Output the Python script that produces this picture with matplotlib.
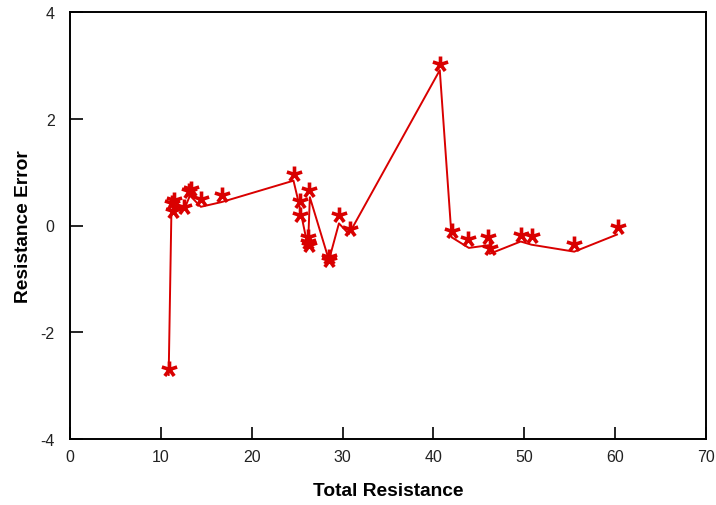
import matplotlib.pyplot as plt
import numpy as np
from matplotlib.path import Path

plt.rcParams['font.family'] = ['Liberation Sans', 'DejaVu Sans']
plt.rcParams['axes.unicode_minus'] = False

# measured points (asterisks)
total_res = [10.86, 11.2, 11.3, 11.5, 12.57, 13.07, 13.3, 14.4, 16.7, 24.7,
             25.3, 25.3, 26.2, 26.2, 26.25, 26.35, 28.5, 28.5, 29.6, 30.8,
             40.7, 42.0, 43.85, 46.06, 46.2, 49.6, 50.8, 55.5, 60.3]
res_error = [-2.68, 0.42, 0.27, 0.48, 0.34, 0.65, 0.68, 0.5, 0.57, 0.97,
             0.45, 0.19, -0.22, -0.3, -0.36, 0.67, -0.59, -0.65, 0.19, -0.06,
             3.03, -0.1, -0.26, -0.22, -0.42, -0.17, -0.2, -0.34, -0.03]

# fitted curve (line)
fit_x = [10.86, 11.16, 11.5, 12.57, 13.2, 14.4, 16.7, 24.6, 25.25, 26.0,
         26.2, 26.4, 28.5, 29.6, 30.7, 40.7, 42.0, 43.9, 46.06, 46.2,
         49.6, 50.8, 55.5, 60.2]
fit_y = [-2.8, 0.25, 0.37, 0.3, 0.56, 0.35, 0.44, 0.84, 0.37, -0.25,
         -0.38, 0.53, -0.65, 0.04, -0.16, 2.91, -0.22, -0.42, -0.37, -0.53,
         -0.3, -0.36, -0.49, -0.17]

red = '#d90000'

# five-armed asterisk like the Arial '*'
verts, codes = [], []
for a in np.deg2rad([90, 18, 162, -54, 234]):
    verts += [(0, 0), (np.cos(a), np.sin(a))]
    codes += [Path.MOVETO, Path.LINETO]
star = Path(verts, codes)

fig = plt.figure(figsize=(7.16, 5.06), dpi=100)
ax = fig.add_axes([70/716, 1 - 440/506, 636/716, 427/506])

ax.plot(fit_x, fit_y, color=red, lw=1.4)
ax.plot(total_res, res_error, ls='none', marker=star, ms=11.5, color=red,
        markeredgewidth=2.6)

ax.set_xlim(0, 70)
ax.set_ylim(-4, 4)
ax.set_xticks(np.arange(0, 71, 10))
ax.set_yticks([-4, -2, 0, 2, 4])
ax.tick_params(direction='in', length=9, width=1.2, labelsize=11.5,
               labelcolor='#222222')
ax.tick_params(axis='y', pad=11)
ax.tick_params(axis='x', pad=7)
for s in ax.spines.values():
    s.set_linewidth(1.4)

ax.set_xlabel('Total Resistance', fontsize=13.8, fontweight='bold', labelpad=13)
ax.set_ylabel('Resistance Error', fontsize=13.8, fontweight='bold', labelpad=6)

fig.savefig('out.png', dpi=100)
